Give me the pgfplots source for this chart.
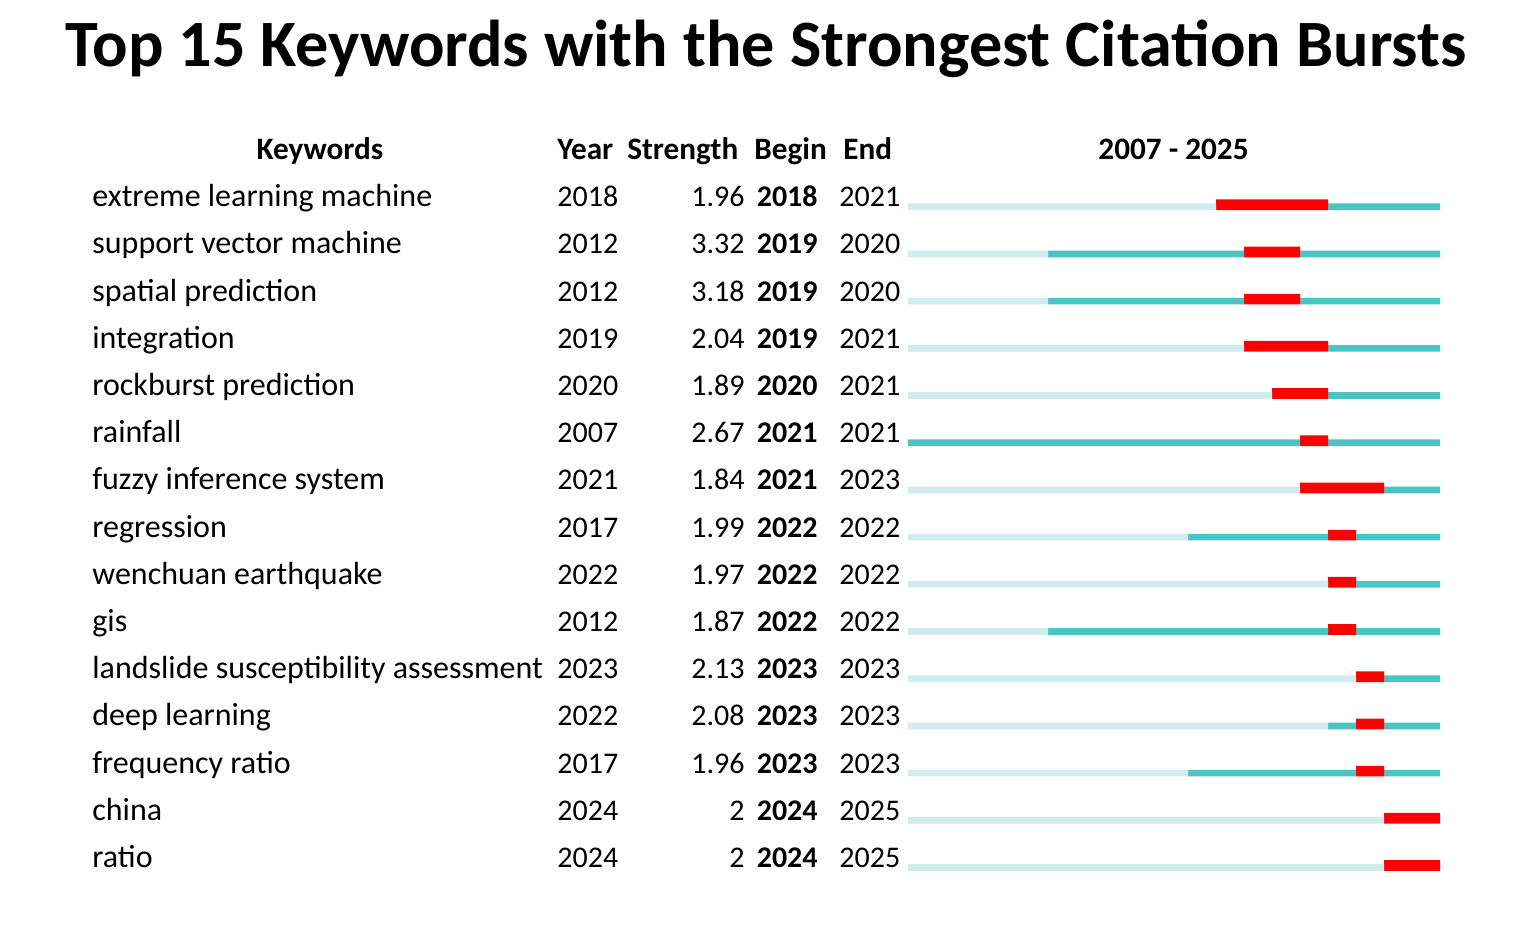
\documentclass[border=0pt]{standalone}
\usepackage{pgfplots}
\pgfplotsset{compat=1.18}
\usepackage{pgfplotstable}
\usepackage{fontspec}
\setmainfont{Carlito}
\definecolor{lightbar}{RGB}{208,236,236}
\definecolor{tealbar}{RGB}{76,196,196}
\definecolor{burst}{RGB}{255,0,0}

% years since 2007: before first appearance / after appearance before burst / burst / after burst
\pgfplotstableread{
row light teal red after
1  11 0  4 4
2  5  7  2 5
3  5  7  2 5
4  12 0  3 4
5  13 0  2 4
6  0  14 1 4
7  14 0  3 2
8  10 5  1 3
9  15 0  1 3
10 5  10 1 3
11 16 0  1 2
12 15 1  1 2
13 10 6  1 2
14 17 0  2 0
15 17 0  2 0
}\bursts

\begin{document}
\begin{tikzpicture}
\begin{axis}[at={(0,0)}, anchor=south west,
  width=762pt, height=462.5pt, scale only axis, hide axis, clip=false,
  xmin=-32.428571, xmax=22, ymin=-3.3792, ymax=16.2182, y dir=reverse,
  xbar stacked, bar width=3.35pt]
\addplot[fill=lightbar, draw=none] table[x=light, y=row]{\bursts};
\addplot[fill=tealbar, draw=none] table[x=teal, y=row]{\bursts};
\addplot[fill=burst, draw=none, bar width=5.35pt, bar shift=1pt] table[x=red, y=row]{\bursts};
\addplot[fill=tealbar, draw=none] table[x=after, y=row]{\bursts};
\end{axis}
\begin{scope}[x=0.5pt, y=-0.5pt, shift={(0pt,462.5pt)}]
\path (0,0) rectangle (1524,925);
\node[anchor=base, inner sep=0, font=\fontsize{33.1}{36}\selectfont\bfseries] at (766,67) {Top 15 Keywords with the Strongest Citation Bursts};
\begin{scope}[every node/.style={inner sep=0, font=\fontsize{15.6}{18}\selectfont\bfseries}]
\node[anchor=base] at (320,159.5) {Keywords};
\node[anchor=base west] at (557,159.5) {Year};
\node[anchor=base west] at (627,159.5) {Strength};
\node[anchor=base west] at (754,159.5) {Begin};
\node[anchor=base west] at (843,159.5) {End};
\node[anchor=base] at (1173.5,159.5) {2007 - 2025};
\end{scope}
\begin{scope}[every node/.style={inner sep=0, font=\fontsize{15}{18}\selectfont}]
\foreach \kw/\yr/\st/\bg/\en [count=\i] in {
 extreme learning machine/2018/1.96/2018/2021,
 support vector machine/2012/3.32/2019/2020,
 spatial prediction/2012/3.18/2019/2020,
 integration/2019/2.04/2019/2021,
 rockburst prediction/2020/1.89/2020/2021,
 rainfall/2007/2.67/2021/2021,
 fuzzy inference system/2021/1.84/2021/2023,
 regression/2017/1.99/2022/2022,
 wenchuan earthquake/2022/1.97/2022/2022,
 gis/2012/1.87/2022/2022,
 landslide susceptibility assessment/2023/2.13/2023/2023,
 deep learning/2022/2.08/2023/2023,
 frequency ratio/2017/1.96/2023/2023,
 china/2024/2/2024/2025,
 ratio/2024/2/2024/2025}{
 \pgfmathsetmacro\yy{206.7+(\i-1)*47.2}
 \node[anchor=base west, font=\fontsize{16}{18}\selectfont] at (92,\yy) {\kw};
 \node[anchor=base west] at (557,\yy) {\yr};
 \node[anchor=base east] at (745,\yy) {\st};
 \node[anchor=base east] at (818,\yy) {\bfseries\bg};
 \node[anchor=base west] at (839,\yy) {\en};
}
\end{scope}
\end{scope}
\end{tikzpicture}
\end{document}
